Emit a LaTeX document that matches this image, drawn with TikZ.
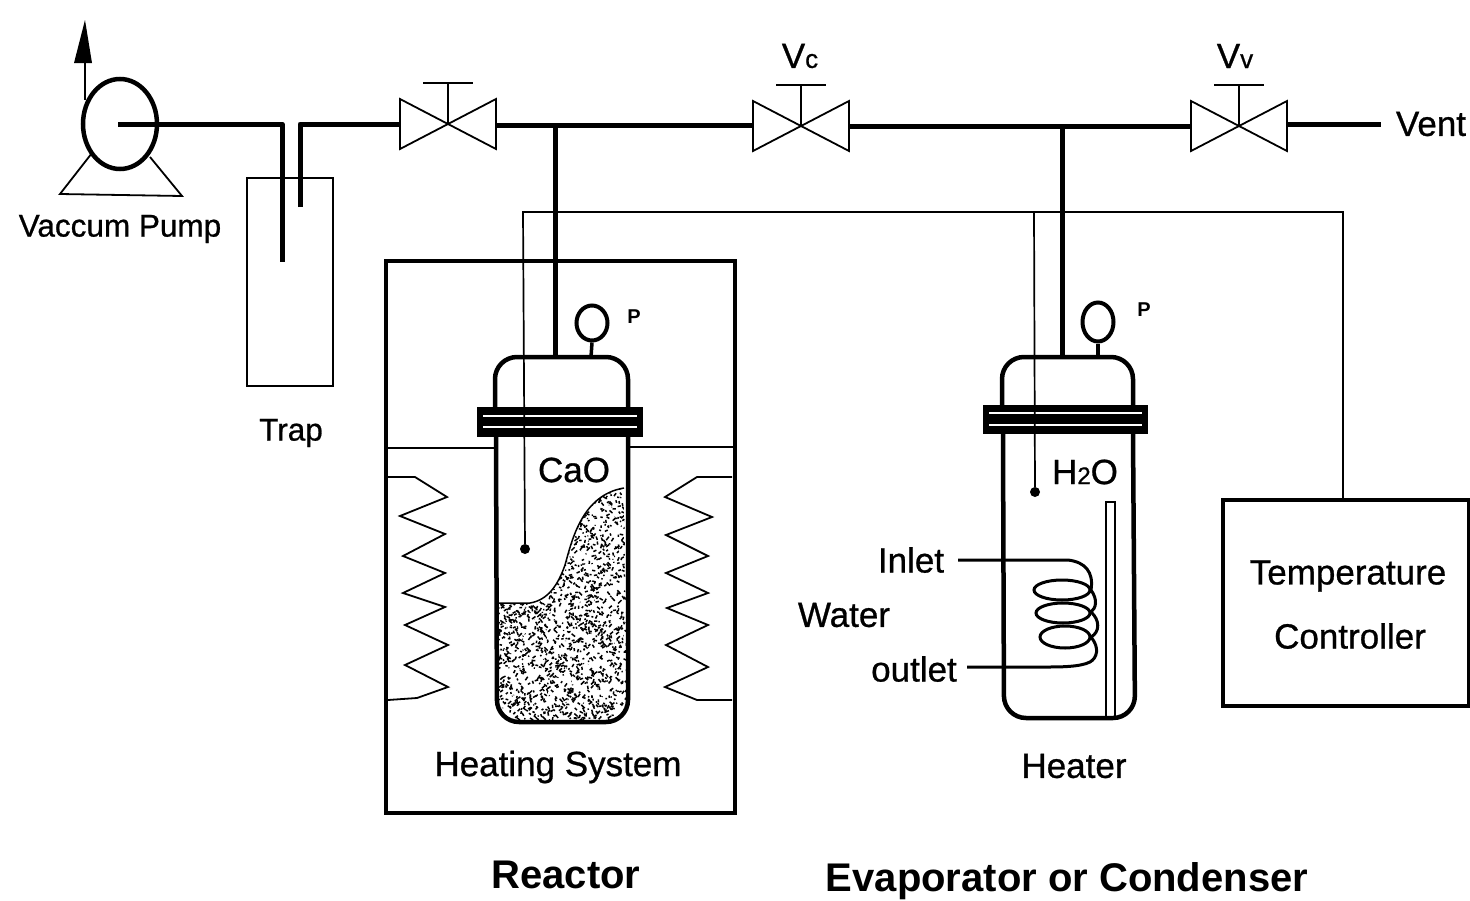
\documentclass[tikz,border=0pt]{standalone}
\usepackage{fontspec}
\setmainfont{Liberation Sans}
\newfontfamily\semibold[FakeBold=0.8]{Liberation Sans}
\usetikzlibrary{arrows.meta,calc,shapes.geometric}
\tikzset{
  pipe/.style={line width=5pt,line join=round},
  thin wire/.style={line width=1.7pt},
  hair/.style={line width=1.8pt,line join=miter},
  wall/.style={line width=4.5pt,rounded corners=22pt},
  box/.style={line width=3.2pt},
  lab/.style={inner sep=0pt,font=\semibold\fontsize{35}{35}\selectfont},
  labm/.style={inner sep=0pt,font=\semibold\fontsize{31.5}{32}\selectfont},
  big/.style={inner sep=0pt,font=\fontsize{40}{40}\selectfont\bfseries},
  pp/.style={inner sep=0pt,font=\fontsize{20}{20}\selectfont\bfseries},
  valve/.pic={
    \draw[hair] (-48,-25) -- (48,25) -- (48,-25) -- (-48,25) -- cycle;
    \draw[hair] (0,0) -- (0,-42);
    \draw[hair] (-25,-41) -- (25,-41);
  },
  gauge/.style={draw,line width=4pt,ellipse,inner sep=0pt,minimum width=31pt,minimum height=35pt}
}
\begin{document}
\begin{tikzpicture}[x=1pt,y=-1pt]
\useasboundingbox (0,0) rectangle (1470,900);
\fill[white] (0,0) rectangle (1470,900);

% named points
\coordinate (pumpC) at (118,124);
\coordinate (trapInTop) at (282,124);
\coordinate (trapInEnd) at (282,262);
\coordinate (trapOutEnd) at (300,207);
\coordinate (trapOutTop) at (300,124);
\coordinate (v1L) at (400,124);
\coordinate (v1R) at (496,125);
\coordinate (vcL) at (753,125);
\coordinate (vcR) at (850,126);
\coordinate (vvL) at (1191,126);
\coordinate (vvR) at (1287,124);
\coordinate (ventEnd) at (1381,124);
\coordinate (teeA) at (555,125);
\coordinate (teeB) at (1062,126);
\coordinate (reTop) at (555,357);
\coordinate (evTop) at (1062,357);
\coordinate (wireA) at (523,212);
\coordinate (wireB) at (1034,212);
\coordinate (wireC) at (1343,212);

% valves
\pic at (448,124) {valve};
\pic at (801,126) {valve};
\pic at (1239,126) {valve};

% pipes
\draw[pipe] (pumpC) -- (trapInTop) -- (trapInEnd);
\draw[pipe] (trapOutEnd) -- (trapOutTop) -- (v1L);
\draw[pipe] (v1R) -- (vcL);
\draw[pipe] (vcR) -- (vvL);
\draw[pipe] (vvR) -- (ventEnd);
\draw[pipe] (teeA) -- (reTop);
\draw[pipe] (teeB) -- (evTop);

% pump
\coordinate (arrowBase) at (85,100);
\coordinate (arrowTip) at (85,20);
\node[draw,line width=4.5pt,ellipse,inner sep=0pt,minimum width=74pt,minimum height=90pt] (pump) at (120,124) {};
\draw[hair] (arrowBase) -- (85,60);
\fill (arrowTip) -- (92,63) -- (74,63) -- cycle;
\draw[hair] (92,153) -- (60,194) -- (182,196) -- (150,157);

% trap
\draw[hair] (247,178) rectangle (333,386);

% heating box
\draw[box] (386,261) rectangle (735,813);
\draw[thin wire] (387,448) -- (495,448);
\draw[thin wire] (628,447) -- (733,447);
\draw[hair] (388,477)--(415,477)--(447,497)--(400,516)--(445,534)--(403,556)--(445,573)--(403,593)--(445,607)--(405,625)--(448,645)--(405,665)--(448,687)--(417,698)--(388,700);
\draw[hair] (732,477)--(697,477)--(665,497)--(712,517)--(666,535)--(708,556)--(666,573)--(708,593)--(667,608)--(708,625)--(666,645)--(708,667)--(665,687)--(697,700)--(732,700);

% reactor powder
\begin{scope}
\clip (498,603) -- (530,603) .. controls (548,600) and (558,585) .. (565,565)
  .. controls (572,540) and (582,495) .. (624,488) -- (627,700) -- (610,720) -- (515,720) -- (498,705) -- cycle;
\pgfmathsetseed{11}
\foreach \i in {1,...,1900}{
  \pgfmathsetmacro{\xa}{498+130*rnd}
  \pgfmathsetmacro{\ya}{488+232*rnd}
  \pgfmathsetmacro{\xb}{\xa+7*rnd-3.5}
  \pgfmathsetmacro{\yb}{\ya+7*rnd-3.5}
  \draw[line width=1.5pt] (\xa,\ya) -- (\xb,\yb);
}
\end{scope}
\draw[line width=1.5pt] (498,603) -- (530,603) .. controls (548,600) and (558,585) .. (565,565)
  .. controls (572,540) and (582,495) .. (624,488);

% reactor vessel
\draw[wall] (495,407) -- (495,357) -- (628,357) -- (628,407);
\draw[wall] (496,437) -- (497,722) -- (628,722) -- (628,437);
\fill (477,407) rectangle (643,437);
\fill[white] (483,415.2) rectangle (637,416.8);
\fill[white] (483,426.2) rectangle (637,427.8);
\node[gauge] (gaugeA) at (592,323) {};
\draw[line width=3.5pt] (gaugeA.south) -- (591,357);

% evaporator vessel
\draw[wall] (1002,405) -- (1002,357) -- (1133,357) -- (1133,405);
\draw[wall] (1003,434) -- (1004,718) -- (1135,718) -- (1133,434);
\fill (983,405) rectangle (1148,434);
\fill[white] (989,412.2) rectangle (1142,413.8);
\fill[white] (989,424.2) rectangle (1142,425.8);
\node[gauge,minimum height=39pt] (gaugeB) at (1098,322) {};
\draw[line width=3.5pt] (gaugeB.south) -- (1098,357);
\draw[line width=1.7pt] (1106,716) -- (1106,502) -- (1115,502) -- (1115,716);

% coil
\coordinate (coilIn) at (958,560);
\coordinate (coilOut) at (967,667);
\draw[line width=3pt] (coilIn) -- (1068,560) .. controls (1085,562) and (1094,572) .. (1091,590)
  .. controls (1098,600) and (1096,608) .. (1091,612)
  .. controls (1100,620) and (1100,632) .. (1091,637)
  .. controls (1100,648) and (1097,658) .. (1090,662)
  .. controls (1080,667) and (1060,667) .. (1045,667) -- (coilOut);
\draw[line width=3pt] (1062,590) ellipse [x radius=28pt,y radius=10pt];
\draw[line width=3pt] (1063,613) ellipse [x radius=27pt,y radius=10pt];
\draw[line width=3pt] (1065,637) ellipse [x radius=25pt,y radius=11pt];

% temperature wires
\node[circle,fill,inner sep=0pt,minimum size=10pt] (probeA) at (525,549) {};
\node[circle,fill,inner sep=0pt,minimum size=10pt] (probeB) at (1035,492) {};
\node[draw,line width=3.2pt,inner sep=0pt,minimum width=246pt,minimum height=206pt] (tc) at (1346,603) {};
\draw[thin wire] (probeA) -- (wireA) -- (wireC) -- (wireC |- tc.north);
\draw[thin wire] (wireB) -- (probeB);

% labels
\node[labm] (lPump) at (120,229) {Vaccum Pump};
\node[labm] (lTrap) at (291,433) {Trap};
\node[lab] (lHeat) at (558,767) {Heating System};
\node[big] (lReact) at (566,875) {Reactor};
\node[big] (lEvap) at (1067,881) {Evaporator or Condenser};
\node[lab] (lHeater) at (1074,766) {Heater};
\node[lab] (lCaO) at (574,470) {CaO};
\node[lab] (lH2O) at (1085,472) {H{\fontsize{24}{24}\selectfont 2}O};
\node[lab] (lInlet) at (911,560) {Inlet};
\node[lab] (lWater) at (844,615) {Water};
\node[lab] (lOutlet) at (914,669) {outlet};
\node[lab] (lTemp) at (1348,576) {Temperature};
\node[lab] (lCtrl) at (1350,636) {Controller};
\node[lab] (lVent) at (1431,124) {Vent};
\node[lab] (lVc) at (800,56) {V{\fontsize{26}{26}\selectfont c}};
\node[lab] (lVv) at (1235,56) {V{\fontsize{26}{26}\selectfont v}};
\node[pp] (lPA) at (634,317) {P};
\node[pp] (lPB) at (1144,310) {P};
\end{tikzpicture}
\end{document}
